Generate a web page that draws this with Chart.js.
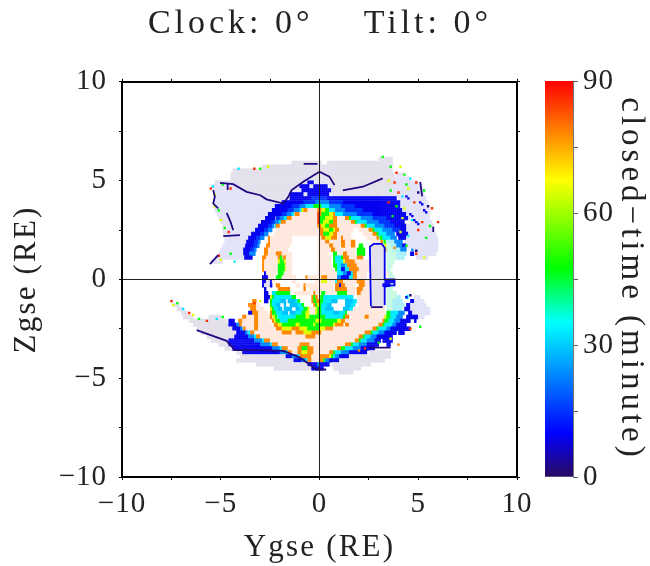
<!DOCTYPE html>
<html>
<head>
<meta charset="utf-8">
<title>Closed time</title>
<script src="https://cdn.jsdelivr.net/npm/chart.js@4"></script>
<style>
  html, body { margin: 0; background: #fff; }
  #wrap { position: relative; width: 650px; height: 566px; overflow: hidden; }
  #main { position: absolute; left: 0; top: 0; }
  #bar  { position: absolute; left: 530px; top: 0; }
</style>
</head>
<body>
<div id="wrap">
  <canvas id="main" width="640" height="566"></canvas>
  <canvas id="bar" width="120" height="566"></canvas>
</div>
<script>
"use strict";

// ── Cell values (minutes); the pale shades are off-scale codes ────────────────
const LG = -1, LB = -2, PE = -3, MI = -4, CP = -5;
const K = 2, A = 9, B = 15, D = 23, E = 29, C = 33, G = 47, Y = 65, O = 78, R = 86;

// top edge of each 0.2 RE row
const rowTop = [
  6.2, 6.0, 5.8, 5.6, 5.4, 5.2, 5.0, 4.8, 4.6, 4.4, 4.2, 4.0, 3.8, 3.6, 3.4, 3.2, 3.0, 2.8,
  2.6, 2.4, 2.2, 2.0, 1.8, 1.6, 1.4, 1.2, 1.0, 0.8, 0.6, 0.4, 0.2, 0.0,
  -0.2, -0.4, -0.6, -0.8, -1.0, -1.2, -1.4, -1.6, -1.8, -2.0, -2.2, -2.4, -2.6, -2.8,
  -3.0, -3.2, -3.4, -3.6, -3.8, -4.0, -4.2, -4.4
];

// runs along each row: from Y, to Y, value
const rowRuns = [
  [3.0,3.7,LG],
  [-1.4,0.1,LG, 0.4,3.7,LG],
  [-2.9,3.7,LG],
  [-4.4,3.7,LG],
  [-4.5,3.8,LG, 3.9,4.3,LB],
  [-4.5,3.8,LG, 3.8,4.6,LB],
  [-5.3,-0.6,LG, -0.6,-0.3,A, -0.2,0.1,LB, 0.1,4.0,LG, 4.0,5.0,LB],
  [-5.4,-4.2,LB, -4.2,-1.0,LG, -1.0,-0.5,A, -0.5,-0.3,LB, -0.3,0.4,A, 0.5,3.7,LG, 3.7,5.2,LB],
  [-5.4,-3.7,LB, -3.7,-1.3,LG, -1.3,-0.9,LB, -0.9,0.6,A, 0.6,3.4,LG, 3.4,5.3,LB],
  [-5.3,-3.0,LB, -3.0,-1.5,LG, -1.5,-0.8,A, -0.8,-0.6,LB, -0.6,0.5,A, 0.5,0.9,LB, 0.9,3.6,LG, 3.6,5.3,LB],
  [-5.3,-2.5,LB, -2.5,-1.5,LG, -1.5,-0.4,A, -0.4,0.4,B, 0.4,3.9,A, 4.0,5.4,LB],
  [-5.3,-2.3,LB, -2.3,-1.9,LG, -1.9,-0.8,A, -0.8,-0.2,B, -0.2,0.5,D, 0.5,1.2,B, 1.2,4.1,A, 4.1,5.5,LB],
  [-5.3,-2.25,LB, -2.25,-1.4,A, -1.4,-1.0,B, -1.0,-0.7,D, -0.7,-0.3,C, -0.3,0.1,G, 0.1,0.5,C, 0.5,1.1,D, 1.1,1.8,B, 1.8,4.1,A, 4.1,5.5,LB],
  [-5.3,-2.4,LB, -2.4,-1.6,A, -1.6,-1.3,B, -1.3,-1.0,D, -1.0,-0.9,C, -0.9,-0.8,Y, -0.8,-0.6,O, -0.6,-0.1,PE, -0.1,0.1,O, 0.1,0.3,Y, 0.3,0.5,G, 0.5,0.8,C, 0.8,1.3,D, 1.3,2.2,B, 2.2,4.2,A, 4.2,5.6,LB],
  [-5.2,-2.6,LB, -2.6,-1.9,A, -1.9,-1.65,B, -1.65,-1.4,D, -1.4,-1.25,C, -1.25,-1.0,O, -1.0,-0.1,PE, -0.1,0,R, 0,0.1,O, 0.1,0.5,G, 0.5,0.7,Y, 0.7,0.8,O, 0.8,1.2,C, 1.2,1.9,D, 1.9,2.7,B, 2.7,4.4,A, 4.4,5.6,LB],
  [-5.1,-2.75,LB, -2.75,-2.2,A, -2.2,-2.0,B, -2.0,-1.8,D, -1.8,-1.65,C, -1.65,-1.4,O, -1.4,-0.1,PE, -0.1,0,R, 0,0.3,G, 0.3,0.7,Y, 0.7,0.9,O, 0.9,1.3,PE, 1.3,1.5,O, 1.5,1.6,G, 1.6,2.1,C, 2.1,2.7,D, 2.7,3.4,B, 3.4,4.5,A, 4.5,5.6,LB],
  [-5.0,-2.95,LB, -2.95,-2.45,A, -2.45,-2.25,B, -2.25,-2.05,D, -2.05,-1.95,C, -1.95,-1.7,O, -1.7,-0.1,PE, -0.1,0,R, 0,0.2,G, 0.2,0.5,Y, 0.5,0.7,G, 0.7,0.9,O, 0.9,1.6,PE, 1.6,1.8,O, 1.8,1.9,G, 1.9,2.4,C, 2.4,3.0,D, 3.0,3.6,B, 3.6,4.3,A, 4.6,5.7,LB],
  [-4.9,-3.1,LB, -3.1,-2.6,A, -2.6,-2.4,B, -2.4,-2.25,D, -2.25,-2.2,C, -2.2,-2.0,O, -2.0,-0.1,PE, -0.1,0.1,O, 0.1,0.3,Y, 0.3,0.5,G, 0.5,0.9,O, 0.9,2.1,PE, 2.1,2.3,O, 2.3,2.4,G, 2.4,2.8,C, 2.8,3.3,D, 3.3,3.8,B, 3.8,4.4,A, 4.4,5.8,LB],
  [-4.9,-3.25,LB, -3.25,-2.8,A, -2.8,-2.6,B, -2.6,-2.4,D, -2.2,0,PE, 0,0.2,O, 0.2,0.5,Y, 0.5,0.7,G, 0.7,0.8,Y, 0.8,1.0,O, 1.0,1.7,PE, 2.0,2.5,PE, 2.5,2.7,O, 2.7,2.8,G, 2.8,3.2,C, 3.2,3.7,D, 3.7,4.1,B, 4.1,4.4,A, 4.4,5.8,LB],
  [-4.9,-3.45,LB, -3.45,-3.0,A, -3.0,-2.8,B, -2.8,-2.6,D, -2.3,0,PE, 0,0.2,O, 0.2,0.5,G, 0.5,0.7,Y, 0.7,0.9,O, 0.9,1.6,PE, 2.2,2.7,PE, 2.7,2.9,O, 2.9,3.0,G, 3.0,3.4,C, 3.4,3.8,D, 3.9,4.5,A, 4.5,5.9,LB],
  [-4.8,-3.6,LB, -3.6,-3.2,A, -3.2,-3.0,B, -3.0,-2.8,D, -2.6,-2.5,O, -2.5,-1.4,PE, -0.1,0.1,PE, 0.1,0.3,O, 0.3,0.6,Y, 0.6,0.9,O, 0.9,1.1,PE, 1.1,1.2,O, 1.2,1.6,PE, 2.4,2.9,PE, 2.9,3.05,O, 3.05,3.2,G, 3.2,3.6,C, 3.6,3.9,D, 4.0,4.4,A, 4.4,6.0,LB],
  [-4.8,-3.7,LB, -3.7,-3.3,A, -3.3,-3.1,B, -3.1,-2.95,D, -2.6,-2.5,O, -2.5,-1.4,PE, -0.1,0.3,PE, 0.3,0.5,O, 0.5,1.1,PE, 1.1,1.3,O, 1.3,1.6,PE, 1.6,1.8,O, 2.6,3.1,PE, 3.1,3.25,O, 3.25,3.4,G, 3.4,3.8,CP, 3.8,4.2,D, 4.3,6.0,LB],
  [-4.9,-3.75,LB, -3.75,-3.35,A, -3.35,-3.15,B, -3.15,-3.05,D, -2.7,-2.5,O, -2.5,-1.5,PE, -0.1,0.5,PE, 0.5,0.7,O, 0.7,1.1,PE, 1.1,1.3,O, 1.3,1.6,PE, 1.6,1.8,O, 2.0,2.2,G, 2.6,3.25,LG, 3.3,3.4,Y, 3.4,3.6,MI, 3.6,3.9,CP, 3.9,4.2,D, 4.2,4.4,A, 4.4,6.0,LB],
  [-5.0,-3.85,LB, -3.85,-3.5,A, -3.5,-3.3,B, -3.3,-3.2,D, -2.8,-2.6,O, -2.6,-1.6,PE, -0.1,0.6,PE, 0.6,0.8,O, 0.8,1.2,PE, 1.3,1.8,PE, 1.9,2.3,G, 2.6,3.3,LG, 3.3,3.4,O, 3.4,3.7,MI, 3.7,4.1,CP, 4.1,4.4,D, 4.8,6.0,LB],
  [-5.1,-3.85,LB, -3.85,-3.55,A, -3.55,-3.3,D, -2.8,-2.6,O, -2.6,-2.2,PE, -2.2,-1.9,O, -1.9,-1.4,PE, -0.1,0.4,PE, 0.7,0.9,G, 0.9,1.2,PE, 1.2,1.4,O, 1.4,1.8,PE, 1.9,2.3,G, 2.6,3.3,LG, 3.4,3.9,MI, 3.9,4.4,CP, 4.6,4.8,A, 4.8,5.9,LB],
  [-5.3,-3.8,LB, -3.8,-3.4,A, -2.9,-2.7,O, -2.7,-2.1,PE, -2.1,-2.0,O, -2.0,-1.85,G, -1.85,-1.7,O, -1.7,-1.4,PE, -0.1,0.6,PE, 0.7,0.8,G, 0.8,1.1,C, 1.1,1.2,G, 1.2,1.5,O, 1.5,1.9,PE, 1.9,2.2,O, 2.6,3.3,LG, 3.4,3.9,MI, 3.9,4.3,CP, 4.9,5.5,LB],
  [-5.5,-4.9,LB, -2.9,-2.8,O, -2.8,-2.1,PE, -2.1,-2.0,Y, -2.0,-1.8,G, -1.8,-1.7,Y, -1.7,-1.4,PE, -0.1,0.6,PE, 0.7,0.8,G, 0.8,1.2,C, 1.2,1.3,Y, 1.3,1.8,O, 1.8,2.5,PE, 2.6,3.3,LG, 3.4,3.8,MI],
  [-2.9,-2.8,O, -2.8,-2.1,PE, -2.1,-1.75,G, -1.75,-1.7,Y, -1.7,-1.4,PE, -0.1,0.6,PE, 0.7,0.9,G, 0.9,1.1,C, 1.1,1.3,D, 1.3,1.4,C, 1.4,1.9,O, 1.9,2.5,PE, 2.6,3.3,LG, 3.4,3.7,MI],
  [-2.9,-2.8,O, -2.8,-2.1,PE, -2.1,-1.75,G, -1.75,-1.7,Y, -1.7,-1.4,PE, -0.1,0.7,PE, 0.8,0.9,G, 0.9,1.1,C, 1.1,1.3,A, 1.3,1.5,C, 1.5,2.0,O, 2.0,2.5,PE, 2.6,3.3,LG, 3.4,3.6,MI],
  [-2.8,-2.7,A, -2.7,-2.2,PE, -2.1,-1.8,G, -1.8,-1.4,PE, -0.1,0.9,PE, 0.9,1.2,C, 1.2,1.4,D, 1.4,1.6,A, 1.6,1.7,C, 1.7,1.9,O, 1.9,2.4,PE, 2.6,3.3,LG, 3.4,3.5,PE, 3.5,3.7,MI],
  [-2.9,-2.6,A, -2.6,-2.3,PE, -2.2,-1.95,G, -1.9,-1.2,PE, -0.7,-0.6,O, -0.6,0.1,PE, 0.1,0.4,O, 0.4,0.9,PE, 0.9,1.1,D, 1.1,1.5,A, 1.5,1.7,C, 1.7,1.9,O, 1.9,2.4,PE, 2.6,3.3,LG, 3.5,3.8,MI],
  [-2.9,-2.7,A, -2.7,-2.5,LG, -2.5,-2.4,A, -2.4,-2.2,PE, -1.4,-1.2,PE, -0.2,0.1,PE, 0.1,0.4,Y, 0.4,0.8,PE, 0.8,0.9,C, 0.9,1.2,O, 1.2,1.9,PE, 1.9,2.3,O, 2.3,2.5,PE, 2.6,3.3,LG, 3.3,3.8,A],
  [-2.9,-2.8,A, -2.8,-2.5,LG, -2.5,-2.4,A, -2.2,-2.0,O, -1.2,-1.0,PE, -0.8,-0.7,O, -0.7,0.7,PE, 0.8,1.0,O, 1.0,1.1,A, 1.1,1.3,O, 1.3,1.8,PE, 2.0,2.3,O, 2.3,2.5,PE, 2.6,3.2,LG, 3.2,3.6,A, 3.6,3.8,MI],
  [-2.8,-2.7,A, -2.1,-1.5,O, -0.8,-0.7,O, -0.5,0.7,PE, 0.8,1.4,O, 1.4,1.9,PE, 1.9,2.2,O, 2.2,2.5,PE, 2.6,3.3,LG, 3.4,3.7,MI],
  [-2.8,-2.6,A, -2.4,-2.2,C, -2.2,-1.5,G, -1.3,-0.4,PE, -0.3,-0.2,O, -0.2,0.1,PE, 0.1,0.3,G, 0.3,0.8,PE, 0.9,1.4,G, 1.4,1.8,PE, 1.9,2.1,O, 2.1,2.5,PE, 2.6,3.3,LG, 3.4,3.9,MI],
  [-2.8,-2.5,A, -2.5,-2.4,Y, -2.4,-2.3,G, -2.3,-1.4,C, -1.4,-1.2,G, -0.4,-0.3,O, -0.3,-0.2,G, -0.2,-0.1,O, 0.05,0.2,G, 0.2,1.7,C, 1.9,2.5,PE, 2.6,3.3,LG, 3.4,3.9,MI, 3.9,4.1,CP, 4.4,4.5,C, 4.8,5.1,LB],
  [-7.5,-7.4,LG, -3.4,-3.2,O, -2.8,-2.6,A, -2.5,-2.4,G, -2.4,-2.0,C, -2.0,-1.7,E, -1.6,-1.2,E, -1.2,-1.1,C, -1.1,-1.0,G, -0.4,-0.3,O, -0.3,-0.15,G, -0.15,0,O, 0,0.2,G, 0.2,0.6,C, 0.6,0.9,E, 1.3,1.7,E, 1.7,1.9,C, 1.9,2.5,PE, 2.6,3.3,LG, 3.4,3.7,MI, 3.7,4.2,CP, 4.6,4.8,A, 4.8,5.3,LB],
  [-7.4,-7.1,LG, -3.6,-3.2,O, -3.2,-3.0,PE, -2.5,-2.4,G, -2.4,-2.2,C, -2.2,-2.0,E, -1.8,-1.7,E, -1.5,-1.1,E, -1.1,-0.9,C, -0.9,-0.8,G, -0.3,-0.2,O, -0.2,-0.1,G, -0.1,0,Y, 0,0.1,G, 0.1,0.4,C, 0.4,0.6,E, 1.3,1.6,E, 1.6,1.8,C, 2.0,2.5,PE, 2.6,3.3,LG, 3.4,3.7,MI, 3.7,4.3,CP, 4.4,4.6,A, 4.6,5.4,LB],
  [-7.2,-6.9,LG, -3.5,-3.2,O, -3.2,-2.8,PE, -2.5,-2.4,Y, -2.4,-2.3,G, -2.3,-2.1,C, -2.1,-1.9,E, -1.8,-1.4,E, -1.2,-1.0,E, -1.0,-0.8,C, -0.8,-0.6,G, -0.6,-0.5,Y, -0.5,-0.2,PE, -0.2,-0.1,Y, -0.1,0.1,G, 0.1,0.3,C, 0.3,0.7,E, 1.2,1.5,E, 1.5,1.7,C, 1.7,3.3,PE, 3.4,3.7,MI, 3.7,4.2,CP, 4.3,4.6,A, 4.6,5.6,LB],
  [-7.0,-6.65,LG, -3.6,-3.4,A, -3.4,-3.1,O, -3.1,-2.6,PE, -2.5,-2.4,O, -2.4,-2.2,G, -2.2,-1.9,C, -1.9,-1.6,E, -1.5,-1.2,E, -1.2,-0.9,C, -0.9,-0.7,G, -0.7,-0.5,Y, -0.5,-0.2,PE, -0.2,-0.1,Y, -0.1,0.1,G, 0.1,0.7,C, 0.7,1.0,E, 1.0,1.3,C, 1.3,1.4,G, 1.4,3.3,PE, 3.4,3.6,G, 3.6,4.0,C, 4.0,4.3,D, 4.5,4.7,A, 4.7,5.6,LB],
  [-6.9,-6.4,LG, -5.6,-5.0,LG, -3.9,-3.7,O, -3.7,-3.3,PE, -3.3,-3.1,O, -3.1,-2.5,PE, -2.5,-2.35,O, -2.35,-2.25,Y, -2.25,-2.1,G, -2.1,-1.2,C, -1.2,-0.7,G, -0.7,-0.5,Y, -0.5,0.3,G, 0.3,1.2,C, 1.2,1.3,G, 1.3,1.5,O, 1.6,2.3,PE, 2.3,2.5,O, 2.5,3.3,PE, 3.3,3.4,Y, 3.4,3.6,G, 3.6,3.9,C, 3.9,4.2,D, 4.4,5.0,A, 5.0,5.3,LB],
  [-6.6,-4.7,LG, -4.6,-4.3,A, -4.1,-3.9,O, -3.9,-3.3,PE, -3.3,-3.1,O, -3.1,-2.5,PE, -2.4,-2.3,O, -2.3,-2.2,Y, -2.2,-2.0,G, -2.0,-1.6,C, -1.6,-0.2,G, -0.2,0.1,Y, 0.1,0.9,G, 0.9,1.1,Y, 1.1,1.3,O, 1.3,3.2,PE, 3.2,3.3,O, 3.3,3.5,G, 3.5,3.8,C, 3.8,4.1,D, 4.1,4.6,A, 4.8,4.9,A],
  [-6.4,-4.6,LG, -4.6,-4.2,A, -4.2,-4.05,D, -4.05,-3.9,O, -3.9,-3.3,PE, -3.3,-3.1,O, -3.1,-2.4,PE, -2.3,-2.1,O, -2.1,-1.9,Y, -1.9,-1.2,G, -1.2,-1.0,Y, -1.0,-0.3,G, -0.3,-0.2,Y, -0.2,0.7,G, 0.7,0.8,Y, 0.8,1.2,O, 1.3,1.5,O, 1.5,3.0,PE, 3.0,3.2,O, 3.2,3.3,G, 3.3,3.7,C, 3.7,3.9,D, 3.9,4.4,A],
  [-6.2,-4.4,LG, -4.4,-4.0,A, -4.0,-3.85,D, -3.85,-3.7,O, -3.7,-3.3,PE, -3.3,-3.1,O, -3.1,-2.3,PE, -2.2,-1.9,O, -1.9,-1.6,Y, -1.6,-1.4,Y, -1.4,-1.0,O, -1.0,-0.6,Y, -0.6,0,G, 0,0.3,Y, 0.3,0.7,O, 0.7,2.7,PE, 2.7,2.9,O, 2.9,3.0,G, 3.0,3.4,C, 3.4,3.6,D, 3.6,4.6,A],
  [-6.0,-4.2,LG, -4.2,-3.75,A, -3.75,-3.6,D, -3.6,-3.5,C, -3.5,-3.3,O, -3.3,-1.9,PE, -1.9,-1.4,O, -1.4,-1.2,PE, -1.2,-0.8,O, -0.8,-0.4,Y, -0.4,0.1,O, 0.1,2.3,PE, 2.3,2.6,O, 2.6,2.7,G, 2.7,3.0,C, 3.0,3.3,D, 3.3,3.9,A, 4.0,4.3,A],
  [-5.7,-4.3,LG, -4.3,-3.6,A, -3.6,-3.3,D, -3.3,-3.2,C, -3.2,-3.0,O, -3.0,-0.7,PE, -0.7,-0.2,O, -0.2,2.0,PE, 2.0,2.2,O, 2.2,2.3,G, 2.3,2.6,C, 2.6,2.9,D, 2.9,3.7,A],
  [-5.5,-4.6,LG, -4.6,-3.3,A, -3.3,-2.9,D, -2.9,-2.8,C, -2.8,-2.5,O, -2.5,1.8,PE, 1.8,2.0,O, 2.0,2.1,G, 2.1,2.4,C, 2.4,2.8,D, 2.8,3.1,A, 3.2,3.7,A],
  [-5.1,-4.6,LG, -4.6,-3.0,A, -3.0,-2.5,D, -2.5,-2.4,C, -2.4,-2.1,O, -2.1,-1.0,PE, -1.0,-0.5,O, -0.5,1.3,PE, 1.3,1.6,O, 1.6,1.7,G, 1.7,2.0,C, 2.0,2.4,D, 2.4,3.0,A, 3.4,3.6,A],
  [-4.8,-4.4,LG, -4.4,-2.4,A, -2.4,-2.0,D, -2.0,-1.9,C, -1.9,-1.6,O, -1.6,-1.1,PE, -1.1,-0.9,O, -0.9,-0.6,G, -0.6,-0.3,O, -0.3,0.9,PE, 0.9,1.1,O, 1.1,1.3,G, 1.3,1.7,C, 1.7,2.1,D, 2.1,2.8,A],
  [-4.2,-3.9,LG, -3.9,-2.0,A, -2.0,-1.7,D, -1.7,-1.6,C, -1.6,-1.4,O, -1.4,-1.1,PE, -1.1,-0.9,O, -0.9,-0.6,Y, -0.6,-0.3,O, -0.3,0.5,PE, 0.5,0.7,O, 0.7,0.8,G, 0.8,1.1,C, 1.1,1.5,D, 1.5,2.4,A, 2.5,3.6,LG],
  [-4.0,-1.7,LG, -1.7,-1.4,A, -1.4,-1.1,D, -1.1,-1.0,C, -1.0,-0.4,O, -0.4,0,PE, 0,0.5,O, 0.5,0.6,Y, 0.6,0.7,G, 0.7,0.8,C, 0.8,1.0,D, 1.0,1.5,A, 1.5,3.6,LG],
  [-4.2,-1.3,LG, -1.3,-0.9,A, -0.9,-0.7,D, -0.7,-0.6,C, -0.6,-0.4,O, -0.4,0,PE, 0,0.2,O, 0.2,0.3,G, 0.3,0.5,D, 0.5,1.0,A, 1.0,3.3,LG],
  [-3.2,-0.6,LG, -0.6,-0.1,A, -0.1,0,D, 0,0.5,A, 0.6,2.6,LG],
  [-2.3,-0.4,LG, -0.4,0.2,A, 0.7,2.1,LG]
];

// last short row under the dayside band
const bottomRun = [1.0, 1.7, LG];

// loose single cells, mostly on the dusk edge
const speckY = [
  -5.5,-5.4,-5.3,-4.9,-4.5,-4.1,-3.3,-3.0,-2.6,-5.3,-5.1,-5.0,-4.8,-4.6,-5.1,-5.0,-4.5,-4.3,
  -7.5,-7.4,-7.2,-6.9,-6.6,-6.4,-6.1,-5.7,-5.2,-4.9,-3.3,-3.0,
  3.2,3.6,3.9,4.1,4.3,3.5,3.8,4.4,4.6,4.9,3.6,4.0,4.2,4.5,5.0,5.3,3.5,3.9,4.3,4.8,5.5,5.7,
  3.7,4.2,4.7,5.2,5.6,6.0,4.1,4.5,5.0,5.4,3.8,4.4,4.9,5.3,4.6,5.1,3.6,4.0,2.3,2.0,3.0,
  4.3,4.7,4.9,4.4,4.6,4.4,4.5,4.6,4.7,4.8,4.9,5.0,5.1,5.2,5.3,5.4
];
const speckZ = [
  4.6,4.7,4.3,4.8,4.6,5.6,5.6,5.6,5.7,3.7,3.5,3.0,2.6,2.4,1.2,1.0,1.3,0.9,
  -1.1,-1.3,-1.2,-1.5,-1.7,-1.8,-2.0,-2.1,-2.0,-1.9,-1.2,-1.1,
  6.2,5.7,5.4,5.7,5.3,5.0,4.9,4.8,5.1,4.9,4.5,4.4,4.2,4.6,4.4,4.5,3.9,3.7,3.6,3.9,3.7,3.6,
  3.2,3.1,3.0,2.9,2.7,2.9,2.4,2.2,2.5,2.1,1.6,1.7,1.3,1.1,-2.5,-2.4,-3.0,-3.3,-3.5,-3.6,-3.2,
  1.6,1.5,1.45,-0.9,-0.8,4.2,4.1,3.3,3.2,3.0,2.9,2.8,3.9,3.8,3.5,3.4
];
const speckV = [
  R,C,Y,G,R,C,R,G,Y,Y,G,Y,G,R,R,Y,G,C,
  R,Y,G,C,R,Y,G,R,C,G,R,Y,
  G,G,R,Y,G,Y,R,G,C,R,G,R,C,Y,K,G,R,G,Y,R,K,R,
  G,Y,C,R,G,R,Y,C,R,G,O,G,R,Y,R,G,Y,O,R,O,G,
  D,D,K,A,K,A,A,A,A,A,A,A,A,A,A,A
];

// thin contour lines, [Y, Z] pairs along each
const darkLines = [
  [[-5.04,4.89],[-4.37,4.82],[-3.69,4.43],[-3.0,4.26],[-2.68,4.05],[-1.83,3.84],[-1.58,4.18],[-1.41,4.52],[-0.82,4.94],[-0.15,5.36],[0,5.45],[0.5,5.2],[0.76,4.77]],
  [[1.18,4.5],[2.2,4.69],[3.2,5.11]],
  [[-5.38,4.52],[-5.3,4.18],[-5.38,3.84],[-5.13,3.59]],
  [[-4.7,3.37],[-4.5,2.9],[-4.37,2.49]],
  [[-4.87,2.19],[-4.03,2.24]],
  [[-5.55,0.77],[-5.13,1.23]],
  [[-4.65,4.86],[-4.65,4.52]],
  [[-0.8,5.85],[-0.1,5.85]],
  [[-6.22,-2.57],[-4.7,-3.11],[-4.28,-3.58],[-3.0,-3.58],[-1.83,-3.62],[-0.99,-3.96],[-0.57,-4.26],[-0.15,-4.56],[0.34,-4.56]],
  [[2.5,-3.45],[3.6,-3.45]],
  [[5.1,4.94],[5.2,4.2]],
  [[5.76,2.66],[5.76,2.4]],
  [[2.6,-1.4],[3.2,-1.4]]
];
const blueLines = [
  [[2.6,-1.35],[2.55,1.65],[2.75,1.8],[3.15,1.8],[3.3,1.6],[3.3,0],[3.8,0],[3.8,-0.3],[3.3,-0.3],[3.3,-1.3]]
];

// colour bar stops
const barStops  = [0, 10, 35, 47.5, 67.5, 90];
const barColors = ["#2a0a60", "#0000ff", "#00ffff", "#00ff00", "#ffff00", "#ff0000"];
const paleColors = { [LG]: "#e3e0ec", [LB]: "#e2e2f8", [PE]: "#ffe8de", [MI]: "#c8fae2", [CP]: "#a8f0f8" };

// axis ticks
const axisMin = -10, axisMax = 10, axisStep = 2.5;
const barMax = 90, barStep = 15;

// ── Helpers ───────────────────────────────────────────────────────────────────

const FONT = "'Liberation Serif', serif";

function hex(c) {
  return [1, 3, 5].map(i => parseInt(c.slice(i, i + 2), 16));
}

function cellColor(v) {
  if (v < 0) return paleColors[v];
  let i = 0;
  while (i < barStops.length - 2 && v > barStops[i + 1]) i++;
  const t = (v - barStops[i]) / (barStops[i + 1] - barStops[i]);
  const a = hex(barColors[i]), b = hex(barColors[i + 1]);
  return `rgb(${a.map((p, k) => Math.round(p + (b[k] - p) * t)).join(",")})`;
}

// each run is laid out on the 0.1 RE plotting grid
function expandRow(top, runs, out) {
  for (let r = 0; r < runs.length; r += 3) {
    const n = Math.max(1, Math.round((runs[r + 1] - runs[r]) * 10));
    for (let i = 0; i < n; i++) {
      const x = runs[r] + (i + 0.5) * 0.1;
      out.push({ x, y: top - 0.05, v: runs[r + 2] });
      out.push({ x, y: top - 0.15, v: runs[r + 2] });
    }
  }
}

const cells = [];
rowTop.forEach((top, i) => expandRow(top, rowRuns[i], cells));
expandRow(-4.6, bottomRun, cells);

const specks = speckY.map((y, i) => ({ x: y, y: speckZ[i], v: speckV[i] }));

function lineSet(path, color) {
  return {
    showLine: true,
    data: path.map(p => ({ x: p[0], y: p[1] })),
    borderColor: color,
    borderWidth: 1.8,
    pointRadius: 0,
    fill: false,
  };
}

function cellSet(data) {
  return {
    data,
    pointStyle: "rect",
    pointRadius: 1.7,
    pointBorderWidth: 0,
    pointBackgroundColor: ctx => cellColor(ctx.raw.v),
  };
}

// canvas text has no spacing option in Chart.js, so set it around each text draw
function withSpacing(obj, method, px) {
  const draw = obj[method];
  obj[method] = function (...args) {
    this.ctx.letterSpacing = px;
    draw.apply(this, args);
    this.ctx.letterSpacing = "0px";
  };
}

function spacing(tickPx, titlePx, chartTitlePx) {
  let done = false;
  return {
    id: "spacing",
    beforeDraw(chart) {
      if (done) return;
      done = true;
      Object.values(chart.scales).forEach(s => {
        withSpacing(s, "drawLabels", tickPx);
        withSpacing(s, "drawTitle", titlePx);
      });
      if (chartTitlePx && chart.titleBlock) withSpacing(chart.titleBlock, "draw", chartTitlePx);
    },
  };
}

function tickLabel(step) {
  return v => (v % step === 0 ? String(v).replace("-", "\u2212") : "");
}

function edgeAxis(position, axis, size) {
  return {
    position, axis, min: axisMin, max: axisMax,
    afterFit: sc => { if (axis === "x") sc.height = size; else sc.width = size; },
    border: { color: "#000", width: 2 },
    grid: { drawOnChartArea: false, tickLength: 3, tickColor: "#000" },
    ticks: { stepSize: axisStep, autoSkip: false, callback: () => "", padding: 0, font: { size: 1 } },
  };
}

// ── Main map ──────────────────────────────────────────────────────────────────

const crossGrid = {
  z: 1,
  tickLength: 3,
  tickColor: "#000",
  lineWidth: 1,
  color: ctx => (ctx.tick && ctx.tick.value === 0 ? "#222" : "transparent"),
};

new Chart(document.getElementById("main"), {
  type: "scatter",
  data: {
    // first dataset draws on top
    datasets: [
      ...darkLines.map(p => lineSet(p, cellColor(K))),
      ...blueLines.map(p => lineSet(p, cellColor(A))),
      cellSet(specks),
      cellSet(cells),
    ],
  },
  options: {
    responsive: false,
    animation: false,
    events: [],
    layout: { padding: 0 },
    plugins: {
      legend: { display: false },
      tooltip: { enabled: false },
      title: {
        display: true,
        text: "Clock: 0\u00b0    Tilt: 0\u00b0",
        color: "#222",
        font: { family: FONT, size: 34, weight: "normal" },
        padding: { top: 4, bottom: 31 },
      },
    },
    scales: {
      x: {
        type: "linear", position: "bottom", min: axisMin, max: axisMax,
        afterFit: sc => { sc.height = 89; },
        border: { color: "#000", width: 2, z: 1 },
        grid: crossGrid,
        ticks: {
          stepSize: axisStep, autoSkip: false, maxRotation: 0, padding: 7, color: "#222",
          font: { family: FONT, size: 29 },
          callback: tickLabel(5),
        },
        title: {
          display: true, text: "Ygse (RE)", color: "#222",
          font: { family: FONT, size: 31 },
          padding: { top: 0, bottom: 0 },
        },
      },
      y: {
        type: "linear", position: "left", min: axisMin, max: axisMax,
        afterFit: sc => { sc.width = 122; },
        border: { color: "#000", width: 2, z: 1 },
        grid: crossGrid,
        ticks: {
          stepSize: axisStep, autoSkip: false, padding: 12, color: "#222",
          font: { family: FONT, size: 29 },
          callback: tickLabel(5),
        },
        title: {
          display: true, text: "Zgse (RE)", color: "#222",
          font: { family: FONT, size: 31 },
          padding: { top: 8, bottom: 0 },
        },
      },
      xTop: edgeAxis("top", "x", 6),
      yRight: edgeAxis("right", "y", 123),
    },
  },
  plugins: [spacing("1px", "2.2px", "4px")],
});

// ── Colour bar ────────────────────────────────────────────────────────────────

function barGradient(ctx) {
  const { chart } = ctx;
  const area = chart.chartArea;
  if (!area) return barColors[0];
  const g = chart.ctx.createLinearGradient(0, area.bottom, 0, area.top);
  barStops.forEach((s, i) => g.addColorStop(s / barMax, barColors[i]));
  return g;
}

new Chart(document.getElementById("bar"), {
  type: "bar",
  data: {
    labels: [""],
    datasets: [{
      data: [[0, barMax]],
      backgroundColor: barGradient,
      barPercentage: 1,
      categoryPercentage: 1,
    }],
  },
  options: {
    responsive: false,
    animation: false,
    events: [],
    layout: { padding: { left: 15, top: 81, bottom: 89 } },
    plugins: { legend: { display: false }, tooltip: { enabled: false } },
    scales: {
      x: { display: false },
      y: {
        position: "right", min: 0, max: barMax,
        afterFit: sc => { sc.width = 77; },
        border: { color: "#777", width: 1 },
        grid: { drawOnChartArea: false, tickLength: 5, tickColor: "#555" },
        ticks: {
          stepSize: barStep, padding: 5, color: "#222",
          font: { family: FONT, size: 29 },
          callback: v => (v % 30 === 0 ? String(v) : ""),
        },
        title: {
          display: true, text: "closed\u2212time (minute)", color: "#222",
          font: { family: FONT, size: 33 },
          padding: { top: 0, bottom: 0 },
        },
      },
    },
  },
  plugins: [spacing("1px", "4px")],
});
</script>
</body>
</html>
